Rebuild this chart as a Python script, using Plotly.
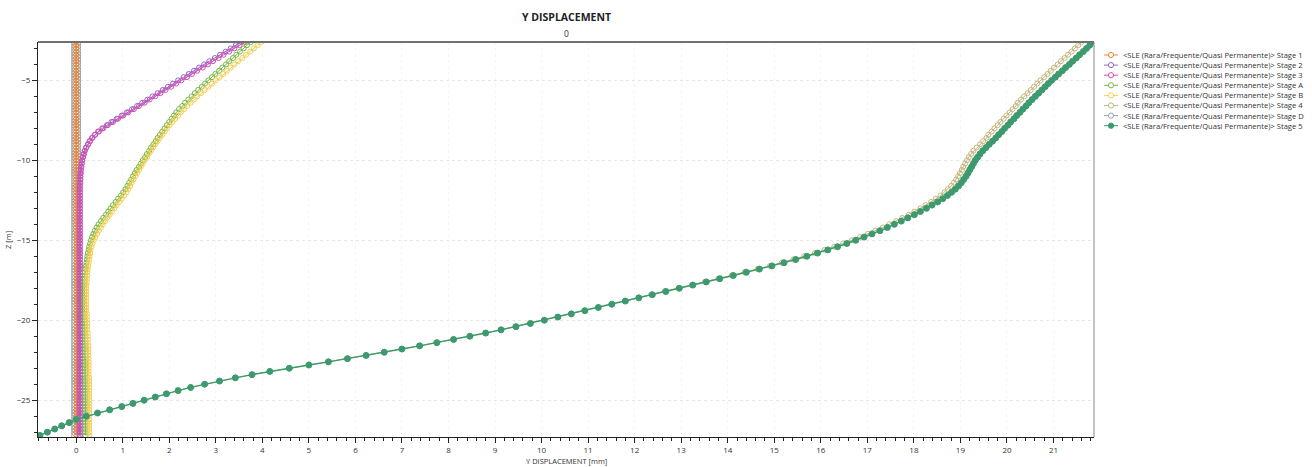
import plotly.graph_objects as go

# Node depths along the wall [m]
depth_m = [
    -2.6, -2.8, -3.0, -3.2, -3.4, -3.6, -3.8, -4.0, -4.2, -4.4,
    -4.6, -4.8, -5.0, -5.2, -5.4, -5.6, -5.8, -6.0, -6.2, -6.4,
    -6.6, -6.8, -7.0, -7.2, -7.4, -7.6, -7.8, -8.0, -8.2, -8.4,
    -8.6, -8.8, -9.0, -9.2, -9.4, -9.6, -9.8, -10.0, -10.2, -10.4,
    -10.6, -10.8, -11.0, -11.2, -11.4, -11.6, -11.8, -12.0, -12.2, -12.4,
    -12.6, -12.8, -13.0, -13.2, -13.4, -13.6, -13.8, -14.0, -14.2, -14.4,
    -14.6, -14.8, -15.0, -15.2, -15.4, -15.6, -15.8, -16.0, -16.2, -16.4,
    -16.6, -16.8, -17.0, -17.2, -17.4, -17.6, -17.8, -18.0, -18.2, -18.4,
    -18.6, -18.8, -19.0, -19.2, -19.4, -19.6, -19.8, -20.0, -20.2, -20.4,
    -20.6, -20.8, -21.0, -21.2, -21.4, -21.6, -21.8, -22.0, -22.2, -22.4,
    -22.6, -22.8, -23.0, -23.2, -23.4, -23.6, -23.8, -24.0, -24.2, -24.4,
    -24.6, -24.8, -25.0, -25.2, -25.4, -25.6, -25.8, -26.0, -26.2, -26.4,
    -26.6, -26.8, -27.0, -27.2,
]

# Y displacement per stage [mm]
stage_1 = [
    0.00, 0.00, 0.00, 0.00, 0.00, 0.00, 0.00, 0.00, 0.00, 0.00,
    0.00, 0.00, 0.00, 0.00, 0.00, 0.00, 0.00, 0.00, 0.00, 0.00,
    0.00, 0.00, 0.00, 0.00, 0.00, 0.00, 0.00, 0.00, 0.00, 0.00,
    0.00, 0.00, 0.00, 0.00, 0.00, 0.00, 0.00, 0.00, 0.00, 0.00,
    0.00, 0.00, 0.00, 0.00, 0.00, 0.00, 0.00, 0.00, 0.00, 0.00,
    0.00, 0.00, 0.00, 0.00, 0.00, 0.00, 0.00, 0.00, 0.00, 0.00,
    0.01, 0.01, 0.01, 0.01, 0.01, 0.01, 0.01, 0.01, 0.01, 0.01,
    0.01, 0.01, 0.01, 0.01, 0.01, 0.01, 0.01, 0.01, 0.01, 0.01,
    0.01, 0.01, 0.01, 0.01, 0.01, 0.01, 0.01, 0.01, 0.01, 0.01,
    0.01, 0.01, 0.01, 0.01, 0.01, 0.01, 0.01, 0.01, 0.01, 0.01,
    0.01, 0.01, 0.01, 0.01, 0.01, 0.01, 0.01, 0.01, 0.01, 0.01,
    0.01, 0.01, 0.01, 0.01, 0.01, 0.01, 0.01, 0.01, 0.01, 0.01,
    0.01, 0.01, 0.01, 0.01,
]

stage_2 = [
    3.55, 3.43, 3.32, 3.21, 3.09, 2.98, 2.86, 2.75, 2.64, 2.53,
    2.42, 2.31, 2.19, 2.08, 1.97, 1.86, 1.75, 1.64, 1.53, 1.42,
    1.31, 1.20, 1.09, 0.98, 0.87, 0.76, 0.66, 0.56, 0.47, 0.40,
    0.34, 0.29, 0.25, 0.21, 0.18, 0.16, 0.14, 0.13, 0.12, 0.11,
    0.10, 0.09, 0.09, 0.09, 0.08, 0.08, 0.08, 0.08, 0.08, 0.08,
    0.08, 0.08, 0.08, 0.08, 0.08, 0.08, 0.08, 0.08, 0.08, 0.08,
    0.08, 0.08, 0.08, 0.08, 0.08, 0.08, 0.08, 0.08, 0.08, 0.08,
    0.08, 0.08, 0.08, 0.08, 0.08, 0.08, 0.08, 0.08, 0.08, 0.08,
    0.08, 0.08, 0.08, 0.08, 0.08, 0.08, 0.08, 0.08, 0.08, 0.08,
    0.08, 0.08, 0.08, 0.08, 0.08, 0.08, 0.08, 0.08, 0.08, 0.08,
    0.08, 0.08, 0.08, 0.08, 0.08, 0.08, 0.08, 0.08, 0.08, 0.08,
    0.08, 0.08, 0.08, 0.08, 0.08, 0.08, 0.08, 0.08, 0.08, 0.08,
    0.08, 0.08, 0.08, 0.08,
]

stage_3 = [
    3.63, 3.51, 3.40, 3.29, 3.17, 3.06, 2.94, 2.83, 2.72, 2.60,
    2.49, 2.38, 2.26, 2.15, 2.04, 1.92, 1.81, 1.70, 1.58, 1.47,
    1.35, 1.24, 1.12, 1.01, 0.90, 0.79, 0.68, 0.58, 0.49, 0.41,
    0.35, 0.30, 0.26, 0.22, 0.19, 0.17, 0.15, 0.13, 0.12, 0.11,
    0.10, 0.10, 0.09, 0.09, 0.09, 0.08, 0.08, 0.08, 0.08, 0.08,
    0.08, 0.08, 0.08, 0.08, 0.08, 0.08, 0.08, 0.08, 0.08, 0.08,
    0.08, 0.08, 0.08, 0.08, 0.08, 0.08, 0.08, 0.08, 0.08, 0.08,
    0.08, 0.08, 0.08, 0.08, 0.08, 0.09, 0.09, 0.09, 0.09, 0.09,
    0.09, 0.09, 0.09, 0.09, 0.09, 0.09, 0.09, 0.09, 0.09, 0.09,
    0.09, 0.09, 0.09, 0.09, 0.09, 0.09, 0.09, 0.09, 0.09, 0.09,
    0.09, 0.09, 0.09, 0.09, 0.09, 0.08, 0.08, 0.08, 0.08, 0.08,
    0.08, 0.08, 0.08, 0.08, 0.08, 0.08, 0.08, 0.08, 0.08, 0.08,
    0.08, 0.08, 0.08, 0.08,
]

stage_a = [
    3.75, 3.67, 3.60, 3.52, 3.44, 3.37, 3.29, 3.22, 3.14, 3.07,
    2.99, 2.92, 2.84, 2.77, 2.70, 2.62, 2.55, 2.48, 2.41, 2.34,
    2.28, 2.21, 2.15, 2.10, 2.05, 2.00, 1.95, 1.90, 1.85, 1.80,
    1.75, 1.71, 1.66, 1.61, 1.57, 1.52, 1.48, 1.43, 1.39, 1.35,
    1.30, 1.26, 1.22, 1.18, 1.14, 1.10, 1.06, 1.01, 0.96, 0.90,
    0.85, 0.79, 0.74, 0.69, 0.64, 0.58, 0.53, 0.48, 0.44, 0.40,
    0.37, 0.34, 0.32, 0.30, 0.28, 0.27, 0.25, 0.24, 0.23, 0.22,
    0.21, 0.20, 0.19, 0.19, 0.18, 0.18, 0.18, 0.17, 0.17, 0.17,
    0.17, 0.17, 0.17, 0.17, 0.17, 0.18, 0.18, 0.18, 0.18, 0.18,
    0.19, 0.19, 0.19, 0.19, 0.19, 0.19, 0.19, 0.19, 0.19, 0.19,
    0.19, 0.19, 0.19, 0.19, 0.19, 0.20, 0.20, 0.20, 0.20, 0.20,
    0.20, 0.20, 0.20, 0.20, 0.20, 0.20, 0.20, 0.20, 0.20, 0.20,
    0.20, 0.20, 0.20, 0.20,
]

stage_b = [
    3.98, 3.90, 3.82, 3.74, 3.65, 3.57, 3.48, 3.40, 3.32, 3.24,
    3.16, 3.08, 3.00, 2.92, 2.84, 2.76, 2.68, 2.60, 2.53, 2.46,
    2.39, 2.32, 2.25, 2.19, 2.13, 2.07, 2.01, 1.95, 1.90, 1.85,
    1.80, 1.75, 1.70, 1.65, 1.61, 1.56, 1.52, 1.47, 1.43, 1.39,
    1.35, 1.31, 1.27, 1.23, 1.19, 1.16, 1.12, 1.08, 1.03, 0.98,
    0.93, 0.87, 0.82, 0.77, 0.72, 0.67, 0.62, 0.57, 0.53, 0.49,
    0.45, 0.41, 0.38, 0.35, 0.33, 0.31, 0.30, 0.29, 0.28, 0.27,
    0.26, 0.25, 0.24, 0.24, 0.23, 0.23, 0.22, 0.22, 0.22, 0.22,
    0.22, 0.22, 0.22, 0.22, 0.22, 0.23, 0.23, 0.23, 0.24, 0.24,
    0.24, 0.25, 0.25, 0.25, 0.25, 0.26, 0.26, 0.26, 0.26, 0.27,
    0.27, 0.27, 0.27, 0.27, 0.27, 0.28, 0.28, 0.28, 0.28, 0.28,
    0.28, 0.28, 0.28, 0.28, 0.28, 0.28, 0.28, 0.28, 0.28, 0.28,
    0.28, 0.28, 0.28, 0.28,
]

stage_4 = [
    21.60, 21.53, 21.46, 21.39, 21.31, 21.24, 21.16, 21.09, 21.01, 20.94,
    20.87, 20.80, 20.72, 20.65, 20.58, 20.51, 20.44, 20.37, 20.30, 20.23,
    20.19, 20.12, 20.06, 19.99, 19.93, 19.86, 19.80, 19.73, 19.67, 19.60,
    19.56, 19.49, 19.42, 19.35, 19.28, 19.23, 19.18, 19.14, 19.10, 19.06,
    19.03, 18.99, 18.95, 18.91, 18.86, 18.80, 18.73, 18.66, 18.57, 18.47,
    18.37, 18.25, 18.14, 18.01, 17.89, 17.75, 17.62, 17.47, 17.33, 17.17,
    17.01, 16.84, 16.67, 16.48, 16.29, 16.08, 15.87, 15.64, 15.41, 15.16,
    14.91, 14.64, 14.36, 14.09, 13.80, 13.51, 13.23, 12.94, 12.65, 12.36,
    12.08, 11.79, 11.50, 11.21, 10.92, 10.63, 10.34, 10.05, 9.75, 9.44,
    9.12, 8.79, 8.45, 8.10, 7.74, 7.37, 6.99, 6.61, 6.22, 5.82,
    5.42, 5.00, 4.58, 4.16, 3.78, 3.42, 3.08, 2.76, 2.46, 2.19,
    1.94, 1.70, 1.46, 1.22, 0.98, 0.72, 0.46, 0.22, 0.00, -0.15,
    -0.31, -0.46, -0.62, -0.78,
]

stage_d = [
    0.00, 0.00, 0.00, 0.00, 0.00, 0.00, 0.00, 0.00, 0.00, 0.00,
    0.00, 0.00, 0.00, 0.00, 0.00, 0.00, 0.00, 0.00, 0.00, 0.00,
    0.00, 0.00, 0.00, 0.00, 0.00, 0.00, 0.00, 0.00, 0.00, 0.00,
    0.00, 0.00, 0.00, 0.00, 0.00, 0.00, 0.00, 0.00, 0.00, 0.00,
    0.00, 0.00, 0.00, 0.00, 0.00, 0.00, 0.00, 0.00, 0.00, 0.00,
    0.00, 0.00, 0.00, 0.00, 0.00, 0.00, 0.00, 0.00, 0.00, 0.00,
    0.00, 0.00, 0.00, 0.00, 0.00, 0.00, 0.00, 0.00, 0.00, 0.00,
    0.00, 0.00, 0.00, 0.00, 0.00, 0.00, 0.00, 0.00, 0.00, 0.00,
    0.00, 0.00, 0.00, 0.00, 0.00, 0.00, 0.00, 0.00, 0.00, 0.00,
    0.00, 0.00, 0.00, 0.00, 0.00, 0.00, 0.00, 0.00, 0.00, 0.00,
    0.00, 0.00, 0.00, 0.00, 0.00, 0.00, 0.00, 0.00, 0.00, 0.00,
    0.00, 0.00, 0.00, 0.00, 0.00, 0.00, 0.00, 0.00, 0.00, 0.00,
    0.00, 0.00, 0.00, 0.00,
]

stage_5 = [
    21.85, 21.78, 21.71, 21.64, 21.56, 21.49, 21.41, 21.34, 21.26, 21.19,
    21.11, 21.04, 20.96, 20.89, 20.82, 20.75, 20.68, 20.61, 20.54, 20.47,
    20.41, 20.34, 20.28, 20.21, 20.15, 20.08, 20.02, 19.95, 19.89, 19.82,
    19.76, 19.69, 19.62, 19.55, 19.48, 19.42, 19.37, 19.32, 19.28, 19.24,
    19.20, 19.16, 19.12, 19.07, 19.02, 18.96, 18.89, 18.81, 18.72, 18.62,
    18.51, 18.39, 18.27, 18.14, 18.01, 17.87, 17.73, 17.58, 17.43, 17.27,
    17.10, 16.93, 16.75, 16.56, 16.36, 16.15, 15.93, 15.70, 15.46, 15.21,
    14.95, 14.68, 14.40, 14.12, 13.83, 13.54, 13.25, 12.96, 12.67, 12.38,
    12.09, 11.80, 11.51, 11.22, 10.93, 10.64, 10.35, 10.06, 9.76, 9.45,
    9.13, 8.80, 8.46, 8.11, 7.75, 7.38, 7.00, 6.62, 6.23, 5.83,
    5.42, 5.00, 4.58, 4.16, 3.78, 3.42, 3.08, 2.76, 2.46, 2.19,
    1.94, 1.70, 1.46, 1.22, 0.98, 0.72, 0.46, 0.22, 0.00, -0.15,
    -0.31, -0.46, -0.62, -0.78,
]

series_prefix = "&lt;SLE (Rara/Frequente/Quasi Permanente)&gt; "
stage_names = ["Stage 1", "Stage 2", "Stage 3", "Stage A", "Stage B",
               "Stage 4", "Stage D", "Stage 5"]
stage_values = [stage_1, stage_2, stage_3, stage_a, stage_b,
                stage_4, stage_d, stage_5]
stage_colors = ["#E8873A", "#8E6BC8", "#D24FB4", "#76B84A", "#F2CF52",
                "#C4B67C", "#9AA0A6", "#3C9A6E"]
stage_filled = [False, False, False, False, False, False, False, True]
stage_msize = [5, 5, 5, 5, 5, 5, 9, 6]

# drawing order (later traces sit on top)
draw_order = [6, 0, 1, 2, 3, 4, 5, 7]

X_RANGE = [-0.82, 21.87]
Y_RANGE = [-27.3, -2.6]

W, H = 1312, 467
PLOT_L, PLOT_R, PLOT_T, PLOT_B = 38, 1094, 42, 437
FONT = "Open Sans"
TXT = "#333333"


def paper_x(px):
    return (px - PLOT_L) / (PLOT_R - PLOT_L)


def paper_y(py):
    return 1 - (py - PLOT_T) / (PLOT_B - PLOT_T)


fig = go.Figure()
for k in draw_order:
    col = stage_colors[k]
    fig.add_trace(go.Scatter(
        x=stage_values[k], y=depth_m, mode="lines+markers",
        name=stage_names[k],
        line=dict(color=col, width=1.4 if stage_filled[k] else 1),
        marker=dict(
            symbol="circle" if stage_filled[k] else "circle-open",
            size=stage_msize[k], color=col,
            line=dict(color=col, width=1),
        ),
        showlegend=False,
    ))

shapes = [
    # frame: top and right edges
    dict(type="line", xref="paper", yref="paper", x0=0, x1=1, y0=1, y1=1,
         line=dict(color="#707070", width=2)),
    dict(type="line", xref="paper", yref="paper", x0=1, x1=1, y0=0, y1=1,
         line=dict(color="#8a8a8a", width=1)),
]
annotations = [
    dict(text="<b>Y DISPLACEMENT</b>", xref="paper", yref="paper",
         x=0.5, y=paper_y(17), xanchor="center", yanchor="middle",
         showarrow=False, font=dict(family=FONT, size=10.5, color="#222")),
    dict(text="0", xref="paper", yref="paper",
         x=0.5, y=paper_y(33), xanchor="center", yanchor="middle",
         showarrow=False, font=dict(family=FONT, size=8.5, color=TXT)),
    dict(text="Y DISPLACEMENT [mm]", xref="paper", yref="paper",
         x=0.5, y=paper_y(461), xanchor="center", yanchor="middle",
         showarrow=False, font=dict(family=FONT, size=7.5, color=TXT)),
    dict(text="Z [m]", xref="paper", yref="paper", textangle=-90,
         x=paper_x(8), y=paper_y(240), xanchor="center", yanchor="middle",
         showarrow=False, font=dict(family=FONT, size=7.5, color=TXT)),
]

# legend block to the right of the plot
LEG_Y0, LEG_DY = 55, 10.1
for i, name in enumerate(stage_names):
    py = LEG_Y0 + i * LEG_DY
    col = stage_colors[i]
    shapes.append(dict(type="line", xref="paper", yref="paper",
                       x0=paper_x(1104), x1=paper_x(1118),
                       y0=paper_y(py), y1=paper_y(py),
                       line=dict(color=col, width=1)))
    r = 2.6
    shapes.append(dict(type="circle", xref="paper", yref="paper",
                       x0=paper_x(1111 - r), x1=paper_x(1111 + r),
                       y0=paper_y(py + r), y1=paper_y(py - r),
                       fillcolor=col if stage_filled[i] else "white",
                       line=dict(color=col, width=1)))
    annotations.append(dict(
        text=series_prefix + name, xref="paper", yref="paper",
        x=paper_x(1121), y=paper_y(py), xanchor="left", yanchor="middle",
        showarrow=False, font=dict(family=FONT, size=7.6, color=TXT)))

fig.update_layout(
    width=W, height=H,
    margin=dict(l=PLOT_L, r=W - PLOT_R, t=PLOT_T, b=H - PLOT_B, pad=0),
    paper_bgcolor="white", plot_bgcolor="white",
    showlegend=False,
    shapes=shapes, annotations=annotations,
    xaxis=dict(
        range=X_RANGE, tick0=0, dtick=1, ticks="outside", ticklen=5,
        tickcolor="#222", tickwidth=1,
        showline=True, linecolor="#222", linewidth=1,
        showgrid=True, gridcolor="#f5f5f5", griddash="dot",
        zeroline=False,
        tickfont=dict(family=FONT, size=8, color=TXT),
        minor=dict(dtick=0.2, ticks="outside", ticklen=3, tickcolor="#222",
                   showgrid=False),
    ),
    yaxis=dict(
        range=Y_RANGE, tick0=0, dtick=5, ticks="outside", ticklen=5,
        tickcolor="#222", tickwidth=1,
        showline=True, linecolor="#222", linewidth=1,
        showgrid=True, gridcolor="#e6e6e6", griddash="dot",
        zeroline=False,
        tickfont=dict(family=FONT, size=8, color=TXT),
        minor=dict(dtick=1, ticks="outside", ticklen=3, tickcolor="#222",
                   showgrid=False),
    ),
)

fig.write_html("out.html")
